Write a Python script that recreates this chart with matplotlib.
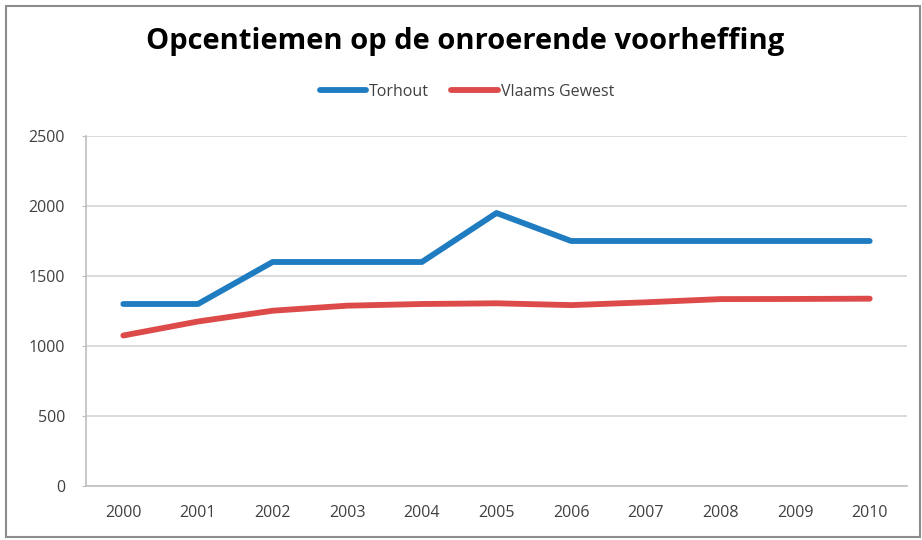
import matplotlib
matplotlib.use("Agg")
import matplotlib.pyplot as plt
from matplotlib.patches import Rectangle

years = ["2000", "2001", "2002", "2003", "2004", "2005", "2006", "2007", "2008", "2009", "2010"]
torhout = [1300, 1300, 1600, 1600, 1600, 1950, 1750, 1750, 1750, 1750, 1750]
vlaams = [1075, 1175, 1252, 1288, 1300, 1305, 1292, 1312, 1335, 1336, 1338]
yticks = [0, 500, 1000, 1500, 2000, 2500]

W, H = 922, 540
fig = plt.figure(figsize=(W / 100, H / 100), dpi=100)
fig.patch.set_facecolor("white")

# outer chart border
fig.patches.append(Rectangle((6 / W, 3 / H), 914 / W, 531 / H, transform=fig.transFigure,
                             fill=False, edgecolor="#8c8c8c", linewidth=1.5))

left, right, top, bottom = 86, 907, 136, 486
ax = fig.add_axes([left / W, 1 - bottom / H, (right - left) / W, (bottom - top) / H])

x = list(range(len(years)))
ax.plot(x, torhout, color="#1f7cc1", linewidth=4.2, solid_capstyle="round", label="Torhout", zorder=3)
ax.plot(x, vlaams, color="#dc4a4a", linewidth=4.2, solid_capstyle="round", label="Vlaams Gewest", zorder=3)

ax.set_xlim(-0.5, len(years) - 0.5)
ax.set_ylim(0, 2500)
ax.set_yticks(yticks)
ax.set_yticklabels([str(v) for v in yticks])
ax.set_xticks(x)
ax.set_xticklabels(years)

ax.grid(axis="y", color="#d4d4d4", linewidth=1.2)
ax.set_axisbelow(True)
for s in ["top", "right"]:
    ax.spines[s].set_visible(False)
for s in ["left", "bottom"]:
    ax.spines[s].set_color("#bfbfbf")
    ax.spines[s].set_linewidth(1.2)

ax.tick_params(axis="y", length=3, color="#bfbfbf", labelsize=11.5, labelcolor="#404040", pad=12)
ax.tick_params(axis="x", length=0, labelsize=11.5, labelcolor="#404040", pad=14)
for lab in ax.get_xticklabels() + ax.get_yticklabels():
    lab.set_family("Open Sans")

fig.text(465 / W, 1 - 41 / H, "Opcentiemen op de onroerende voorheffing", ha="center", va="center",
         fontsize=21, fontweight="bold", family="Open Sans", color="black")

leg = fig.legend(loc="center", bbox_to_anchor=(467 / W, 1 - 92 / H), ncol=2, frameon=False,
                 handlelength=2.9, handletextpad=0.2, columnspacing=1.4,
                 prop={"family": "Open Sans", "size": 11.5})
for t in leg.get_texts():
    t.set_color("#404040")

fig.savefig("out.png", dpi=100, facecolor="white")
